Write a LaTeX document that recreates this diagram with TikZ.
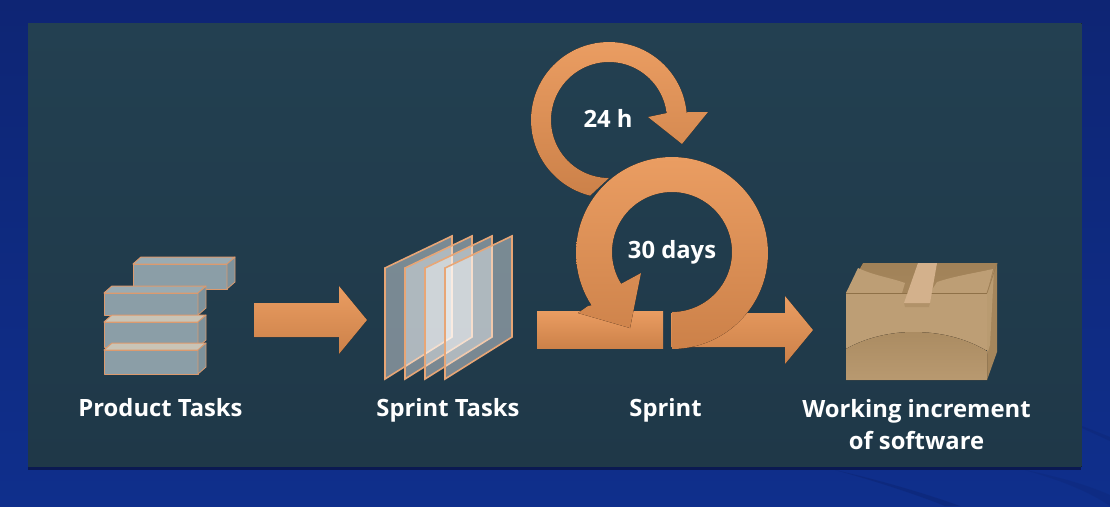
\documentclass[tikz,border=0pt]{standalone}
\usepackage{fontspec}
\setmainfont{Open Sans}
\definecolor{bgblue}{HTML}{0F2F8C}
\definecolor{bgtop}{HTML}{0E2574}
\definecolor{bgdark}{HTML}{0C1F66}
\definecolor{paneltop}{HTML}{234051}
\definecolor{panelbot}{HTML}{1F3848}
\definecolor{orA}{HTML}{EA9D62}
\definecolor{orB}{HTML}{CC8149}
\definecolor{edge}{HTML}{DC9A6E}
\definecolor{paneedge}{HTML}{E8A676}
\definecolor{slab}{HTML}{8B9EA7}
\definecolor{slabT}{HTML}{9AABB2}
\definecolor{slabL}{HTML}{C9C4B6}
\definecolor{slabS}{HTML}{7D929C}
\definecolor{boxA}{HTML}{BD9E75}
\definecolor{boxB}{HTML}{A5865C}
\definecolor{boxD}{HTML}{8F7148}
\definecolor{tape}{HTML}{D3B18C}
\tikzset{
 lbl/.style={text=white,font=\bfseries\fontsize{23.8}{32}\selectfont,inner sep=0pt},
 orfill/.style={top color=orA,bottom color=orB,draw=none},
 slabface/.style={fill=slab,draw=edge,line width=1pt,line join=round},
 slabtop/.style={fill=#1,draw=edge,line width=1pt,line join=round},
 slabside/.style={fill=slabS,draw=edge,line width=.8pt,line join=round},
 pane/.style={draw=paneedge,line width=1.6pt,line join=miter,fill=white,fill opacity=.4}
}
\newcommand{\slabat}[5]{% x, y, width, height, top colour
 \filldraw[slabtop=#5] (#1,#2) -- ++(8,-7) -- ++(#3,0) -- ++(-8,7) -- cycle;
 \filldraw[slabface] (#1,#2) rectangle ++(#3,#4);
 \filldraw[slabside] (#1+#3,#2) -- ++(8,-7) -- ++(0,#4) -- ++(-8,7) -- cycle;
}
\begin{document}
\begin{tikzpicture}[x=1pt,y=-1pt]
\useasboundingbox (0,0) rectangle (1110,506);
\fill[top color=bgtop,bottom color=bgblue] (0,0) rectangle (1110,506);
% faint swooshes of the backdrop
\fill[bgdark,opacity=.35] (835,470) .. controls (880,480) and (930,495) .. (960,506) -- (945,506) .. controls (915,494) and (875,481) .. cycle;
\fill[bgdark,opacity=.2] (1025,470) .. controls (1060,480) and (1090,492) .. (1110,506) -- (1110,495) .. controls (1085,484) and (1055,476) .. cycle;
\fill[bgdark,opacity=.25] (1082,428) -- (1110,441) -- (1110,437) -- (1082,426) -- cycle;
% panel
\fill[bgdark!80!black] (28,465) rectangle (1081,469.5);
\fill[top color=paneltop,bottom color=panelbot] (28,23) rectangle (1081.5,466.5);
% product tasks
\slabat{133}{264}{94}{25}{slabT}
\slabat{104}{293}{94}{22}{slabT}
\slabat{104}{322}{94}{25}{slabL}
\slabat{104}{350}{94}{24}{slabL}
% arrow 1
\fill[orfill] (254,303) -- (339,303) -- (339,286) -- (367,320) -- (339,354) -- (339,337) -- (254,337) -- cycle;
% panes
\foreach \dx in {0,20,40,60}{
 \filldraw[pane] ({385+\dx},268) -- ({452+\dx},236) -- ({452+\dx},337) -- ({385+\dx},379) -- cycle;
}
% 24h loop
\fill[top color=orA,bottom color=orB]
 plot[domain=104:355,samples=70] ({609+78*cos(\x)},{120+78*sin(\x)})
 -- (687.5,112) -- (708,112) -- (682,144) -- (648,117) -- (667,113)
 -- plot[domain=352:90,samples=70] ({609+58*cos(\x)},{120+58*sin(\x)}) -- cycle;
% sprint bars
\fill[orfill] (537,311) rectangle (663,348);
\fill[orfill] (671,313) -- (785,313) -- (785,296) -- (813,330) -- (785,364) -- (785,347) -- (671,347) -- cycle;
% 30 days loop
\fill[top color=orA,bottom color=orB]
 plot[domain=90:-212,samples=90] ({672+60*cos(\x)},{252+60*sin(\x)})
 -- (641,273) -- (630,328) -- (578,313) -- (588,306)
 -- plot[domain=-213:90,samples=90] ({672+96*cos(\x)},{253+96*sin(\x)}) -- cycle;
% box
\fill[top color=boxB!80!boxD,bottom color=boxB] (863,263) -- (997,263) -- (987,293) -- (846,293) -- cycle;
\fill[boxA] (858,268) .. controls (875,276) and (892,278) .. (905,283) -- (902,293) -- (846,293) -- cycle;
\fill[boxA] (993,269) .. controls (975,273) and (955,276) .. (937,282) -- (930,293) -- (987,293) -- cycle;
\fill[boxB] (987,293) -- (997,263) -- (997,352) -- (987,380) -- cycle;
\fill[boxA!92!boxD] (987,293) -- (994,270) -- (990,345) -- (987,355) -- cycle;
\fill[boxA] (846,293) rectangle (987,350);
\fill[top color=boxB!75!boxA,bottom color=boxA!80!boxB] (846,349) .. controls (865,338) and (890,332) .. (913,332) .. controls (940,332) and (965,338) .. (987,351) -- (987,380) -- (846,380) -- cycle;
\draw[boxD,line width=1pt] (846,293) -- (987,293);
\draw[boxD!70!boxA,line width=.8pt] (987,293) -- (997,263);
\fill[boxD,opacity=.25] (904,303) -- (930,303) -- (929,307) -- (905,307) -- cycle;
\fill[tape] (918,263) -- (937,263) -- (930,303) -- (904,303) -- cycle;
% labels
\node[lbl,anchor=base] (pt) at (160.5,416) {Product Tasks};
\node[lbl,anchor=base] (st) at (448,416) {Sprint Tasks};
\node[lbl,anchor=base] (sp) at (665.5,416) {Sprint};
\node[lbl,align=center] (wi) at (916.5,425) {Working increment\\of software};
\node[lbl,anchor=base] (h) at (608,127) {24 h};
\node[lbl,anchor=base] (d) at (672,258) {30 days};
\end{tikzpicture}
\end{document}
